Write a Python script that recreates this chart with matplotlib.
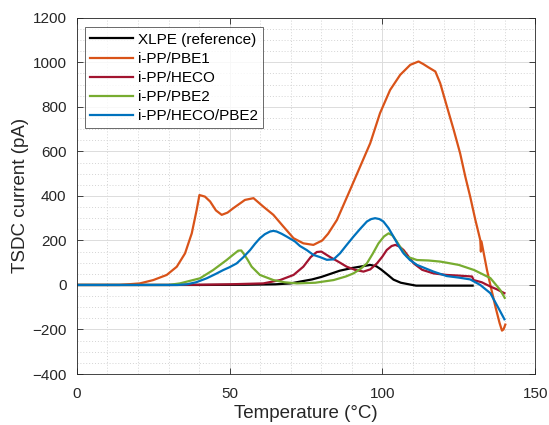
import matplotlib
matplotlib.use("Agg")
import matplotlib.pyplot as plt
from matplotlib.ticker import MultipleLocator

plt.rcParams['font.family'] = ['Liberation Sans', 'DejaVu Sans']

# ---- data (temperature in °C, current in pA) ----
labels = ["XLPE (reference)", "i-PP/PBE1", "i-PP/HECO", "i-PP/PBE2", "i-PP/HECO/PBE2"]
colors = ["#000000", "#D95319", "#A2142F", "#77AC30", "#0072BD"]

xlpe_T = [0, 20, 40, 55, 65, 70, 73, 77, 80, 83, 86, 90, 93, 96, 98, 99.5, 101.5, 103.6, 106, 109, 111, 115, 120, 125, 129.5]
xlpe_I = [0, 0, 0, 1, 3, 7, 15, 25, 36, 50, 64, 76, 83, 90, 84, 70, 48, 24, 10, 2, -3, -3, -3, -3, -3]

pbe1_T = [0, 14, 20.6, 25, 29.4, 32.7, 35.4, 37.6, 39.2, 40.1, 41.9, 43.6, 45.5, 47.4, 49.3, 51.2, 55, 57.8, 61, 64.3,
          67.6, 70.9, 74.1, 77.4, 80.3, 82.2, 85.1, 89.4, 92.7, 96, 99.2, 102.5, 105.8, 109.1, 111.8, 113.4, 115, 117.3,
          118.9, 121.1, 123.3, 125.4, 127.1, 128.7, 130.4, 132.0, 132.2, 132.4, 134.2, 135.3, 137.0, 138.3, 139.1, 139.6, 140.2]
pbe1_I = [0, 0, 7, 22, 45, 82, 142, 232, 337, 404, 397, 375, 335, 315, 325, 345, 382, 390, 352, 315,
          262, 210, 187, 180, 200, 230, 292, 427, 532, 637, 772, 876, 944, 989, 1004, 992, 978, 959,
          906, 801, 697, 592, 487, 397, 292, 202, 150, 195, 67, 0, -100, -170, -205, -200, -178]

heco_T = [0, 30, 40, 50, 61, 66.5, 70.9, 74.1, 76.5, 78.5, 80, 82.9, 85.5, 88.3, 91, 93.8, 96, 98.2, 100, 101.4, 103,
          104.2, 105.5, 106.9, 108.5, 110.2, 113, 116.7, 121, 125, 129.3, 129.8, 132.5, 135.3, 137.5, 139.9]
heco_I = [0, 0, 1, 3, 7, 22, 45, 82, 125, 148, 150, 125, 105, 82, 68, 60, 70, 97, 128, 157, 175,
          180, 173, 157, 128, 97, 68, 52, 45, 42, 38, 22, 12, -7, -20, -37]

pbe2_T = [0, 30, 33.7, 40.3, 44.6, 49, 51.5, 52.8, 53.8, 54.5, 55.8, 57.2, 59.9, 64.3, 68, 72, 78, 84, 88, 90.5, 92.8,
          94.9, 96.8, 98.7, 100.5, 102, 103.3, 104.7, 106.3, 108, 111.3, 115, 118.9, 121, 125, 130, 135.3, 138.5, 140]
pbe2_I = [0, 0, 7, 30, 67, 112, 140, 154, 155, 142, 115, 82, 45, 22, 12, 7, 10, 22, 38, 52, 72,
          97, 140, 187, 218, 232, 222, 195, 160, 127, 112, 110, 105, 100, 90, 67, 31, -22, -58]

hepb_T = [0, 33, 36, 39, 42.5, 45.5, 47.9, 50, 52.3, 54.5, 56.7, 58.3, 59.9, 61.5, 63.2, 64.3, 65.4, 67, 68.7, 71.4,
          73, 75.2, 77.4, 79.6, 81.8, 84, 86.1, 88.3, 90.5, 92.7, 94.9, 96.3, 97.6, 99, 100.3, 102, 103.6, 105.2,
          106.9, 109, 111.3, 116.7, 121, 125, 128.7, 132, 135.3, 138, 139.9]
hepb_I = [0, 0, 3, 12, 30, 50, 67, 80, 97, 125, 157, 185, 210, 228, 240, 243, 240, 230, 217, 195,
          175, 157, 135, 125, 113, 115, 142, 180, 217, 252, 285, 296, 300, 296, 285, 255, 217, 178,
          142, 112, 90, 60, 40, 33, 25, 0, -37, -105, -154]

series = [(xlpe_T, xlpe_I), (pbe1_T, pbe1_I), (heco_T, heco_I), (pbe2_T, pbe2_I), (hepb_T, hepb_I)]

x_ticks = [0, 50, 100, 150]
y_ticks = [-400, -200, 0, 200, 400, 600, 800, 1000, 1200]

fig = plt.figure(figsize=(5.49, 4.25), dpi=100)
ax = fig.add_axes([0.140, 0.120, 0.835, 0.838])

for (T, I), lab, c in zip(series, labels, colors):
    ax.plot(T, I, color=c, lw=1.6, label=lab, solid_joinstyle='round')

ax.set_xlim(0, 150)
ax.set_ylim(-400, 1200)
ax.set_xticks(x_ticks)
ax.set_yticks(y_ticks)
ax.xaxis.set_minor_locator(MultipleLocator(10))
ax.yaxis.set_minor_locator(MultipleLocator(50))

ax.grid(which='major', color='#dcdcdc', lw=0.7, ls='-')
ax.grid(which='minor', color='#d4d4d4', lw=0.7, ls=(0, (1, 2)))
ax.set_axisbelow(True)

ax.tick_params(which='major', direction='in', length=4, width=0.6, top=True, right=True,
               labelsize=11, colors='#262626')
ax.tick_params(axis='x', which='major', pad=9)
ax.tick_params(axis='y', which='major', pad=7.5)
ax.tick_params(which='minor', length=0, top=True, right=True)
for s in ax.spines.values():
    s.set_color('#262626')
    s.set_linewidth(0.6)

ax.set_xlabel("Temperature (°C)", fontsize=13.5, color='#262626', labelpad=3)
ax.set_ylabel("TSDC current (pA)", fontsize=13.5, color='#262626', labelpad=2)

leg = ax.legend(loc='upper left', bbox_to_anchor=(0.018, 0.973), fontsize=11, frameon=True,
                fancybox=False, edgecolor='#262626', handlelength=2.8, handletextpad=0.3,
                labelspacing=0.33, borderpad=0.35, borderaxespad=0.0)
leg.get_frame().set_linewidth(0.6)
for t in leg.get_texts():
    t.set_color('#000000')

fig.savefig("out.png", dpi=100)
